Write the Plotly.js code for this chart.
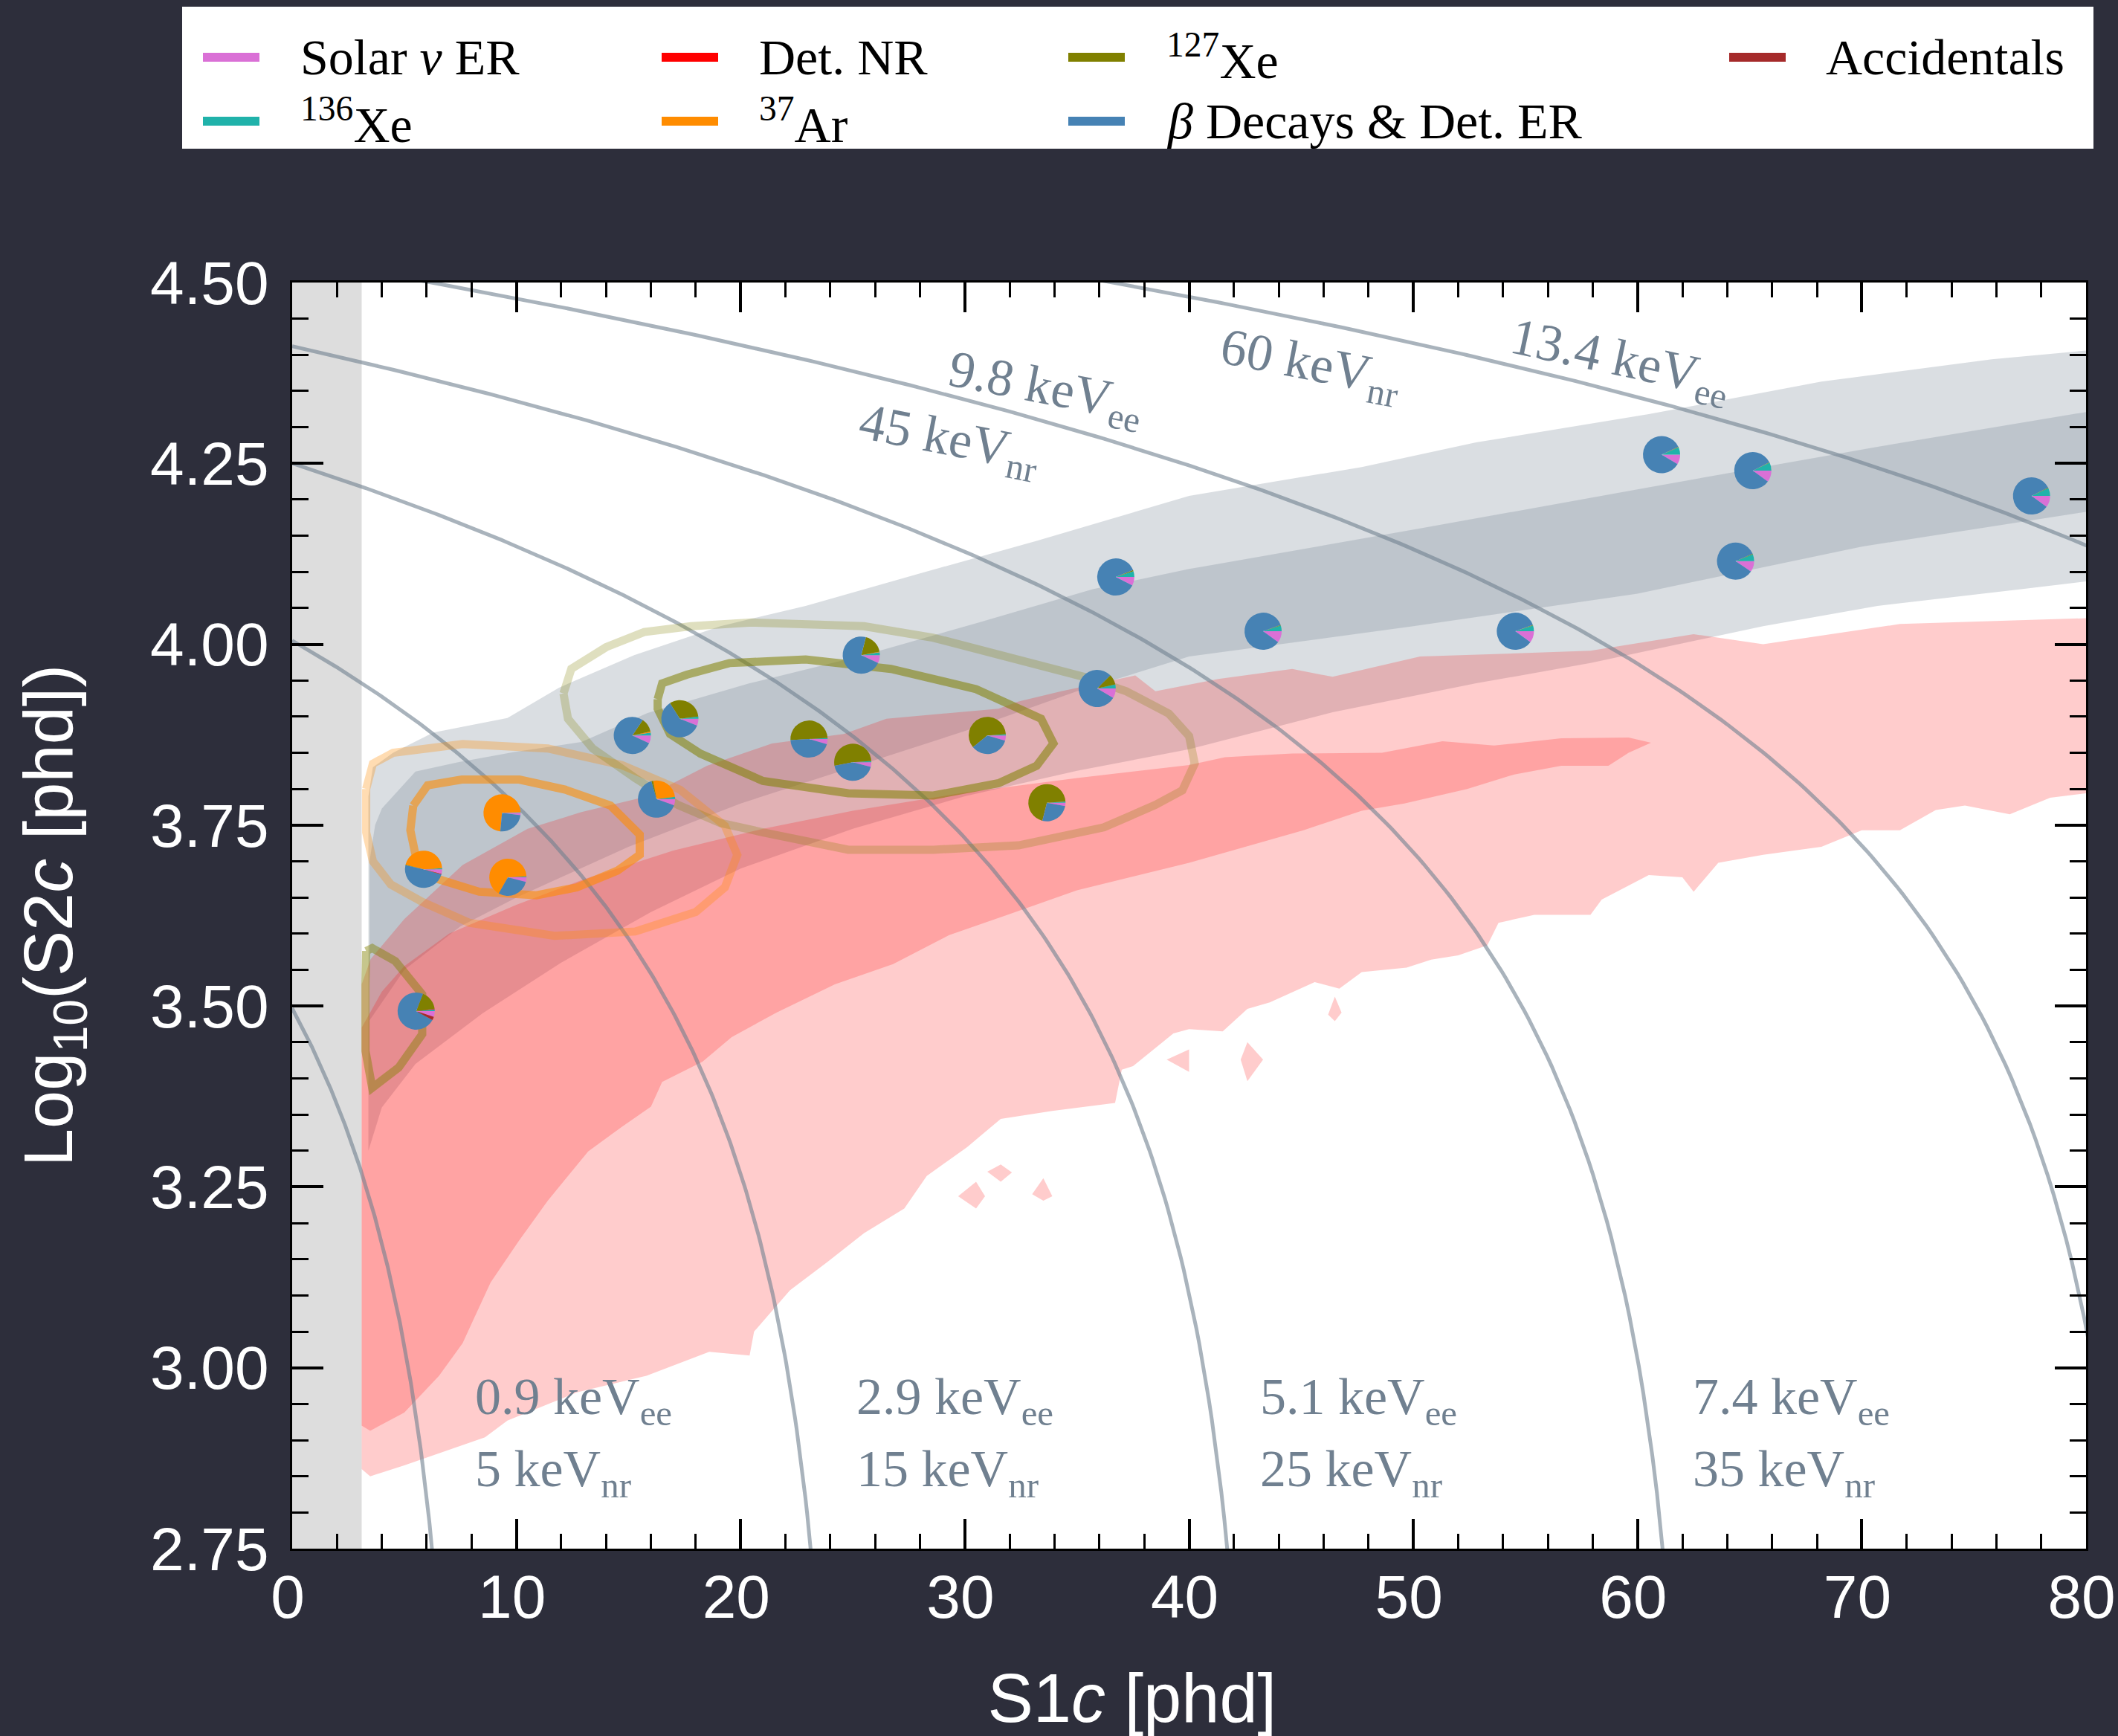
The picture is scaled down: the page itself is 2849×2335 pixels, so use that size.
<!DOCTYPE html>
<html>
<head>
<meta charset="utf-8">
<script src="https://cdn.plot.ly/plotly-3.0.1.min.js"></script>
<style>
  html, body { margin: 0; padding: 0; background: #2d2e3b; }
  #plot { width: 2849px; height: 2335px; }
</style>
</head>
<body>
<div id="plot"></div>
<script>
// ---------------- Background components (pie order = legend order) ----------------
const seriesNames = ['Solar <i>ν</i> ER', '<sup>136</sup>Xe', 'Det. NR', '<sup>37</sup>Ar',
                     '<sup>127</sup>Xe', '<i>β</i> Decays &amp; Det. ER', 'Accidentals'];
const seriesColors = ['#da70d6', '#20b2aa', '#ff0000', '#ff8c00', '#808000', '#4682b4', '#a52a2a'];

// ---------------- Candidate events: position and component fractions ----------------
const eventS1  = [5.53, 5.86, 9.36, 9.62, 15.17, 17.29, 16.25, 25.38, 23.05, 25.0,
                  31.0, 33.66, 35.9, 36.73, 43.3, 54.55, 61.07, 65.14, 64.37, 77.57];
const eventLogS2 = [3.493, 3.689, 3.767, 3.678, 3.874, 3.897, 3.786, 3.985, 3.869, 3.837,
                    3.874, 3.781, 3.939, 4.093, 4.018, 4.018, 4.262, 4.240, 4.115, 4.205];
const fracSolar = [0.05, 0.04, 0.02, 0.04, 0.07, 0.06, 0.055, 0.07, 0.045, 0.04,
                   0.045, 0.03, 0.085, 0.075, 0.10, 0.10, 0.085, 0.10, 0.095, 0.10];
const fracXe136 = [0.015, 0.01, 0.005, 0.008, 0.025, 0.02, 0.02, 0.025, 0.01, 0.01,
                   0.01, 0.01, 0.035, 0.05, 0.05, 0.05, 0.065, 0.07, 0.06, 0.07];
const fracDetNR = [0.005, 0, 0, 0, 0, 0, 0, 0, 0, 0, 0, 0, 0, 0, 0, 0, 0, 0, 0, 0];
const fracAr37  = [0, 0.45, 0.73, 0.66, 0.01, 0, 0.26, 0.005, 0, 0,
                   0, 0, 0, 0, 0, 0, 0, 0, 0, 0];
const fracXe127 = [0.17, 0.005, 0, 0, 0.12, 0.32, 0.015, 0.18, 0.50, 0.52,
                   0.60, 0.70, 0.09, 0.01, 0.005, 0.005, 0.005, 0.005, 0.005, 0.005];
const fracBeta  = [0.73, 0.49, 0.245, 0.292, 0.775, 0.60, 0.65, 0.72, 0.445, 0.43,
                   0.345, 0.26, 0.79, 0.865, 0.845, 0.845, 0.845, 0.825, 0.84, 0.825];
const fracAcc   = [0.03, 0.005, 0, 0, 0, 0, 0, 0, 0, 0, 0, 0, 0, 0, 0, 0, 0, 0, 0, 0];

// ---------------- ER band (outer and inner contours) ----------------
const erOuterTopS1 = [3.4, 3.6, 4.5, 6.3, 9.6, 11.9, 15.25, 19.1, 22.9, 28, 33.2, 40, 47.7, 52.8, 60.5, 68.2, 75.8, 80];
const erOuterTopY  = [3.79, 3.83, 3.85, 3.878, 3.898, 3.94, 3.985, 4.025, 4.053, 4.098, 4.143, 4.205, 4.245, 4.279, 4.318, 4.363, 4.394, 4.406];
const erOuterBotS1 = [3.4, 4, 5.5, 8.5, 12, 16, 20, 25, 30, 35, 40, 46.4, 52.8, 57.9, 65.6, 70.7, 77.1, 80];
const erOuterBotY  = [3.30, 3.36, 3.42, 3.49, 3.56, 3.63, 3.69, 3.745, 3.79, 3.825, 3.855, 3.906, 3.946, 3.974, 4.025, 4.053, 4.076, 4.087];
const erInnerTopS1 = [3.45, 3.7, 4.0, 5.5, 7.4, 9.9, 12.9, 15.85, 20.4, 25.5, 30.6, 35.7, 40, 50.3, 60.5, 70.7, 80];
const erInnerTopY  = [3.70, 3.75, 3.773, 3.824, 3.837, 3.851, 3.865, 3.905, 3.946, 3.985, 4.03, 4.076, 4.104, 4.16, 4.217, 4.273, 4.321];
const erInnerBotS1 = [3.45, 5, 7.5, 10, 15, 20, 25, 30, 35, 40, 50, 60, 70, 80];
const erInnerBotY  = [3.48, 3.55, 3.61, 3.65, 3.72, 3.78, 3.83, 3.88, 3.935, 3.983, 4.025, 4.07, 4.135, 4.183];

// ---------------- NR band (outer and inner contours) ----------------
const nrOuterTopS1 = [3.1, 3.5, 5, 7.6, 10.5, 12.9, 15.85, 18.5, 21.4, 24.6, 26.5, 31.5, 32.4, 34.3, 37.6, 38.5, 41.3, 44.6, 46.4, 50.3, 57.9, 62.5, 65.6, 71.7, 80];
const nrOuterTopY  = [3.53, 3.565, 3.62, 3.695, 3.745, 3.768, 3.79, 3.832, 3.863, 3.876, 3.897, 3.911, 3.921, 3.935, 3.957, 3.935, 3.952, 3.966, 3.955, 3.983, 3.991, 4.014, 4.0, 4.028, 4.036];
const nrOuterBotS1 = [3.1, 3.48, 5.0, 8.6, 9.6, 12.7, 15.8, 18.6, 20.4, 20.6, 22.2, 23.9, 25.5, 27.3, 28.3, 30.1, 31.6, 33.9, 36.7, 37.0, 37.5, 39.3, 40, 41.5, 42.6, 43.6, 45.6, 46.7, 47.7, 49.7, 50.8, 52, 53.3, 53.8, 55.4, 57.9, 58.4, 60.5, 62.0, 62.5, 63.6, 65.6, 68.2, 70, 71.7, 73.3, 74.6, 76.6, 78.4, 80];
const nrOuterBotY  = [2.86, 2.85, 2.865, 2.904, 2.927, 2.966, 2.989, 3.022, 3.017, 3.05, 3.107, 3.147, 3.186, 3.22, 3.265, 3.305, 3.344, 3.355, 3.366, 3.412, 3.417, 3.462, 3.468, 3.465, 3.496, 3.505, 3.533, 3.524, 3.547, 3.553, 3.564, 3.57, 3.584, 3.615, 3.626, 3.626, 3.647, 3.681, 3.678, 3.658, 3.698, 3.709, 3.72, 3.743, 3.743, 3.771, 3.777, 3.765, 3.788, 3.794];
const nrInnerTopS1 = [3.1, 4, 5, 7, 10, 13, 17, 21, 25, 30, 35, 40, 41.6, 44.6, 48.6, 51.3, 53.6, 56.6, 59.6, 60.6];
const nrInnerTopY  = [3.47, 3.52, 3.555, 3.60, 3.64, 3.675, 3.715, 3.745, 3.77, 3.795, 3.815, 3.833, 3.844, 3.849, 3.85, 3.866, 3.86, 3.87, 3.871, 3.864];
const nrInnerBotS1 = [3.1, 3.48, 5.0, 6.55, 7.6, 8.85, 10.1, 11.4, 13.2, 14.7, 16, 16.5, 18.3, 19.6, 21.6, 24.2, 26.8, 29.3, 31.9, 35, 40, 45.1, 47.7, 49.6, 50.5, 52.4, 54.5, 56.6, 58.7, 59.6];
const nrInnerBotY  = [2.92, 2.913, 2.938, 2.989, 3.034, 3.118, 3.175, 3.231, 3.299, 3.333, 3.361, 3.395, 3.423, 3.457, 3.491, 3.53, 3.558, 3.598, 3.626, 3.66, 3.698, 3.743, 3.77, 3.78, 3.786, 3.80, 3.82, 3.832, 3.832, 3.85];
// isolated NR islands below the main outer contour (closed loops separated by null)
const nrIslandS1 = [29.7, 30.5, 30.9, 30.5, null, 31.0, 31.6, 32.1, 31.6, null, 33.0, 33.5, 33.9, 33.5, null,
                    42.3, 42.6, 43.3, 42.6, null, 46.2, 46.5, 46.8, 46.5, null, 39.0, 40.0, 40.0];
const nrIslandY  = [3.237, 3.257, 3.237, 3.22, null, 3.271, 3.281, 3.27, 3.257, null, 3.24, 3.262, 3.237, 3.231, null,
                    3.426, 3.45, 3.426, 3.396, null, 3.488, 3.513, 3.491, 3.479, null, 3.426, 3.44, 3.409];

// ---------------- Calibration-peak contours ----------------
const ar37InnerS1 = [5.4, 6.04, 7.57, 10.13, 12.18, 14.2, 15.5, 15.5, 14.5, 12.7, 10.9, 8.34, 6.55, 5.5, 5.27, 5.4];
const ar37InnerY  = [3.777, 3.805, 3.813, 3.813, 3.799, 3.777, 3.737, 3.709, 3.687, 3.664, 3.653, 3.658, 3.675, 3.709, 3.743, 3.777];
const ar37OuterS1 = [3.3, 3.6, 4.5, 7.6, 11.4, 14.7, 17.3, 19.3, 19.85, 19.3, 18.0, 15.3, 11.7, 7.9, 5.8, 4.4, 3.6, 3.3, 3.3];
const ar37OuterY  = [3.80, 3.835, 3.85, 3.862, 3.856, 3.833, 3.799, 3.749, 3.709, 3.664, 3.63, 3.603, 3.597, 3.615, 3.644, 3.668, 3.70, 3.74, 3.80];
const xe127InnerS1 = [16.3, 16.5, 17.6, 19.5, 22.9, 26.7, 30.5, 33.4, 33.95, 33.2, 31.5, 28.6, 24.8, 21.0, 18.2, 16.85, 16.3, 16.3];
const xe127InnerY  = [3.924, 3.946, 3.958, 3.974, 3.979, 3.966, 3.938, 3.897, 3.863, 3.832, 3.808, 3.791, 3.794, 3.811, 3.849, 3.876, 3.911, 3.924];
const xe127OuterS1 = [12.1, 12.45, 14.0, 15.7, 17.8, 20.5, 23.5, 25.5, 28.6, 31.5, 35.3, 37.2, 39.1, 40.0, 40.25, 39.7, 38.5, 36.2, 32.4, 28.6, 24.8, 21.0, 19.1, 17.2, 15.3, 13.4, 12.3, 12.1];
const xe127OuterY  = [3.932, 3.966, 3.996, 4.017, 4.025, 4.03, 4.027, 4.025, 4.009, 3.986, 3.955, 3.935, 3.904, 3.873, 3.835, 3.798, 3.778, 3.747, 3.722, 3.716, 3.716, 3.74, 3.753, 3.778, 3.815, 3.856, 3.897, 3.932];
const xe127LowS1 = [3.3, 3.57, 4.6, 5.8, 5.8, 4.75, 3.57, 3.27, 3.27, 3.3];
const xe127LowY  = [3.576, 3.58, 3.562, 3.516, 3.461, 3.415, 3.387, 3.438, 3.53, 3.576];

// ---------------- Combined-energy guide lines ----------------
// E = W * (S1/g1 + S2/g2); each line is drawn from the energy written in its label
const energyKeVee = [0.9, 2.9, 5.1, 7.4, 9.8, 13.4];
const G1 = 0.114, G2 = 47.1, W_KEV = 0.0135;

// ---------------- Axes ----------------
const xRange = [0, 80];
const yRange = [2.75, 4.5];
const xTickStep = 10, yTickStep = 0.25;
const thresholdS1 = 3.1;

// ---------------- Figure geometry ----------------
const FIG_W = 2849, FIG_H = 2335;
const M = {l: 393, r: 43, t: 380, b: 252};
const PW = FIG_W - M.l - M.r, PH = FIG_H - M.t - M.b;
const PIE_R = 25;   // pie radius in px
const pxToPaperX = X => (X - M.l) / PW;
const pxToPaperY = Y => (FIG_H - M.b - Y) / PH;

const SERIF = 'Liberation Serif, Times New Roman, serif';
const SANS = 'Liberation Sans, Arial, Helvetica, sans-serif';
const SLATE = '#708090';

function band(topX, topY, botX, botY, color) {
  return {
    type: 'scatter', mode: 'lines', fill: 'toself', fillcolor: color,
    x: topX.concat(botX.slice().reverse()),
    y: topY.concat(botY.slice().reverse()),
    line: {width: 0, color: 'rgba(0,0,0,0)'}, hoverinfo: 'skip', showlegend: false
  };
}
function loop(x, y, color, width) {
  return {type: 'scatter', mode: 'lines', x: x, y: y,
          line: {color: color, width: width}, hoverinfo: 'skip', showlegend: false};
}

const traces = [];
// ER band: slate grey, inner drawn over outer
traces.push(band(erOuterTopS1, erOuterTopY, erOuterBotS1, erOuterBotY, 'rgba(112,128,144,0.26)'));
traces.push(band(erInnerTopS1, erInnerTopY, erInnerBotS1, erInnerBotY, 'rgba(112,128,144,0.26)'));
// NR band: red, drawn over the ER band
traces.push(band(nrOuterTopS1, nrOuterTopY, nrOuterBotS1, nrOuterBotY, 'rgba(255,0,0,0.2)'));
traces.push({type: 'scatter', mode: 'lines', fill: 'toself', fillcolor: 'rgba(255,0,0,0.2)',
             x: nrIslandS1, y: nrIslandY, line: {width: 0, color: 'rgba(0,0,0,0)'},
             hoverinfo: 'skip', showlegend: false});
traces.push(band(nrInnerTopS1, nrInnerTopY, nrInnerBotS1, nrInnerBotY, 'rgba(255,0,0,0.2)'));

// energy guide lines
energyKeVee.forEach(E => {
  const nQuanta = E / W_KEV;
  const s1End = G1 * (nQuanta - Math.pow(10, 2.7) / G2);
  const xs = [], ys = [];
  const n = 300;
  for (let i = 0; i <= n; i++) {
    const s1 = Math.min(s1End, xRange[1] + 1) * i / n;
    xs.push(s1);
    ys.push(Math.log10(G2 * (nQuanta - s1 / G1)));
  }
  traces.push({type: 'scatter', mode: 'lines', x: xs, y: ys,
               line: {color: 'rgba(112,128,144,0.6)', width: 5},
               hoverinfo: 'skip', showlegend: false});
});

// calibration contours
traces.push(loop(ar37OuterS1, ar37OuterY, 'rgba(255,140,0,0.3)', 11));
traces.push(loop(ar37InnerS1, ar37InnerY, 'rgba(255,140,0,0.58)', 11));
traces.push(loop(xe127OuterS1, xe127OuterY, 'rgba(128,128,0,0.25)', 11));
traces.push(loop(xe127InnerS1, xe127InnerY, 'rgba(128,128,0,0.55)', 11));
traces.push(loop(xe127LowS1, xe127LowY, 'rgba(128,128,0,0.45)', 11));

// event pies
const fracs = [fracSolar, fracXe136, fracDetNR, fracAr37, fracXe127, fracBeta, fracAcc];
eventS1.forEach((s1, i) => {
  const cx = (s1 - xRange[0]) / (xRange[1] - xRange[0]);
  const cy = (eventLogS2[i] - yRange[0]) / (yRange[1] - yRange[0]);
  const rx = PIE_R / PW, ry = PIE_R / PH;
  traces.push({
    type: 'pie', sort: false, direction: 'counterclockwise', rotation: 90,
    labels: seriesNames, values: fracs.map(f => f[i]),
    marker: {colors: seriesColors, line: {width: 0}},
    textinfo: 'none', hoverinfo: 'label+percent', showlegend: false,
    domain: {x: [cx - rx, cx + rx], y: [cy - ry, cy + ry]}
  });
});
// centre markers
traces.push({type: 'scatter', mode: 'markers', x: eventS1, y: eventLogS2,
             marker: {color: 'white', size: 5}, hoverinfo: 'skip', showlegend: false});

// ---------------- Annotations ----------------
const annotations = [];
const guideLabelsBottom = [
  {x: 8.1,  ee: '0.9', nr: '5'},
  {x: 25.1, ee: '2.9', nr: '15'},
  {x: 43.1, ee: '5.1', nr: '25'},
  {x: 62.4, ee: '7.4', nr: '35'}
];
guideLabelsBottom.forEach(g => {
  annotations.push({xref: 'x', yref: 'y', x: g.x, y: 2.955, xanchor: 'left', yanchor: 'middle',
                    text: g.ee + ' keV<sub>ee</sub>', showarrow: false,
                    font: {family: SERIF, size: 70, color: SLATE}});
  annotations.push({xref: 'x', yref: 'y', x: g.x, y: 2.855, xanchor: 'left', yanchor: 'middle',
                    text: g.nr + ' keV<sub>nr</sub>', showarrow: false,
                    font: {family: SERIF, size: 70, color: SLATE}});
});
const guideLabelsTop = [
  {x: 33.6, y: 4.351, t: '9.8 keV<sub>ee</sub>', a: 11},
  {x: 29.3, y: 4.280, t: '45 keV<sub>nr</sub>', a: 11},
  {x: 45.4, y: 4.384, t: '60 keV<sub>nr</sub>', a: 11},
  {x: 59.2, y: 4.390, t: '13.4 keV<sub>ee</sub>', a: 12}
];
guideLabelsTop.forEach(g => {
  annotations.push({xref: 'x', yref: 'y', x: g.x, y: g.y, xanchor: 'center', yanchor: 'middle',
                    text: g.t, textangle: g.a, showarrow: false,
                    font: {family: SERIF, size: 70, color: SLATE}});
});

// legend: white box, 4 columns filled column-wise
const shapes = [
  {type: 'rect', xref: 'x', yref: 'y', x0: xRange[0], x1: thresholdS1, y0: yRange[0], y1: yRange[1],
   fillcolor: '#dddddd', line: {width: 0}, layer: 'below'},
  {type: 'rect', xref: 'paper', yref: 'paper', x0: pxToPaperX(245), x1: pxToPaperX(2816),
   y0: pxToPaperY(200), y1: pxToPaperY(9), fillcolor: 'white', line: {width: 0}, layer: 'above'}
];
const legColLineX = [273, 890, 1437, 2326];
const legColTextX = [402, 1019, 1567, 2454];
const legRowY = [77, 163];
seriesNames.forEach((name, i) => {
  const col = Math.floor(i / 2), row = i % 2;
  const yy = pxToPaperY(legRowY[row]);
  shapes.push({type: 'line', xref: 'paper', yref: 'paper',
               x0: pxToPaperX(legColLineX[col]), x1: pxToPaperX(legColLineX[col] + 76),
               y0: yy, y1: yy, line: {color: seriesColors[i], width: 12}, layer: 'above'});
  annotations.push({xref: 'paper', yref: 'paper', x: pxToPaperX(legColTextX[col]), y: yy,
                    xanchor: 'left', yanchor: 'middle', text: name, showarrow: false,
                    font: {family: SERIF, size: 68, color: 'black'}});
});

const tickFont = {family: SANS, size: 82, color: 'white'};
const titleFont = {family: SANS, size: 92, color: 'white'};
const layout = {
  width: FIG_W, height: FIG_H,
  margin: M,
  paper_bgcolor: '#2d2e3b', plot_bgcolor: 'white',
  showlegend: false,
  xaxis: {
    range: xRange, dtick: xTickStep, tick0: 0, showgrid: false, zeroline: false,
    ticks: 'inside', ticklen: 40, tickwidth: 4, tickcolor: 'black',
    showline: true, linecolor: 'black', linewidth: 3, mirror: 'ticks',
    minor: {dtick: 2, ticks: 'inside', ticklen: 20, tickwidth: 3, tickcolor: 'black', showgrid: false},
    tickfont: tickFont, ticklabelstandoff: -8, ticklabelshift: -6, ticklabeloverflow: 'allow',
    title: {text: 'S1<i>c</i> [phd]&nbsp;&nbsp;&nbsp;&nbsp;&nbsp;&nbsp;', font: titleFont, standoff: 72}
  },
  yaxis: {
    range: yRange, dtick: yTickStep, tick0: 2.75, tickformat: '.2f', showgrid: false, zeroline: false,
    ticks: 'inside', ticklen: 42, tickwidth: 4, tickcolor: 'black',
    showline: true, linecolor: 'black', linewidth: 3, mirror: 'ticks',
    minor: {dtick: 0.05, ticks: 'inside', ticklen: 22, tickwidth: 3, tickcolor: 'black', showgrid: false},
    tickfont: tickFont, ticklabelstandoff: 12, ticklabeloverflow: 'allow',
    title: {text: 'Log<sub>10</sub>(S2<i>c</i> [phd])', font: titleFont, standoff: 74}
  },
  shapes: shapes,
  annotations: annotations
};

Plotly.newPlot('plot', traces, layout, {staticPlot: true});
</script>
</body>
</html>
